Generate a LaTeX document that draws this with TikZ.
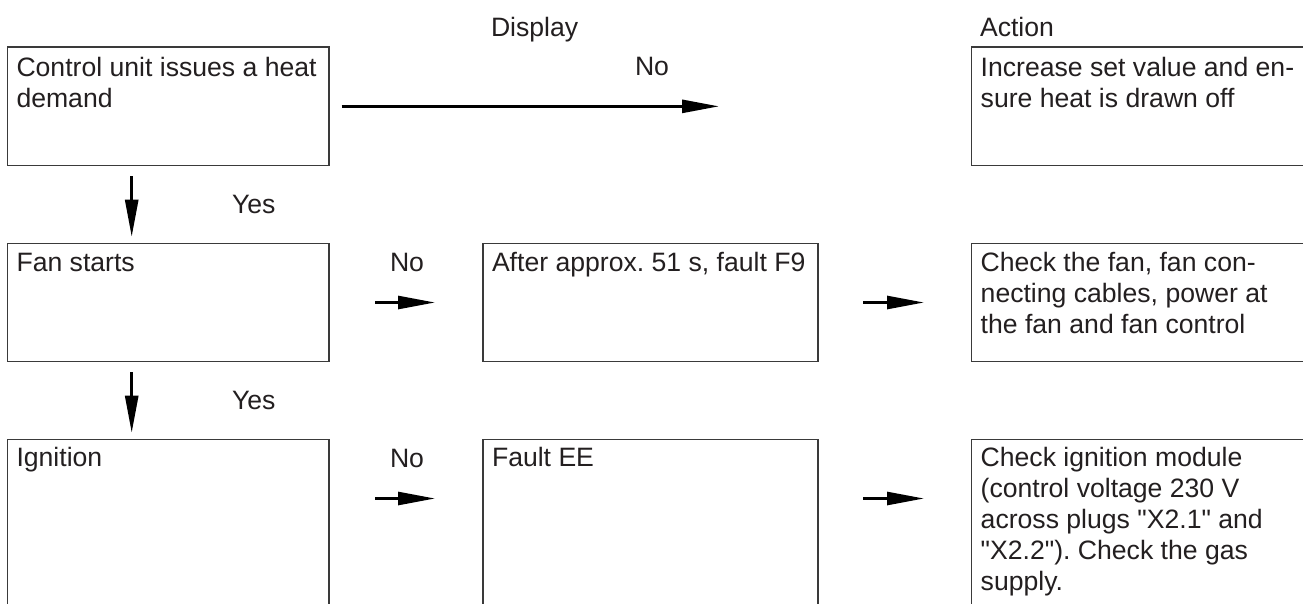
\documentclass[tikz,border=0pt]{standalone}
\usepackage{fontspec}
\newfontfamily\arialfont{Liberation Sans}
\usetikzlibrary{arrows.meta}
\definecolor{ink}{HTML}{231F20}
\definecolor{frame}{HTML}{3A3A3A}
\frenchspacing
\tikzset{
  box/.style={draw=frame, line width=1.3pt, inner sep=0pt, outer sep=0pt, anchor=north west},
  txt/.style={font={\arialfont\fontsize{26.6}{31}\selectfont\frenchspacing}, text=ink, inner sep=0pt, outer sep=0pt, align=left, anchor=base west},
  arr/.style={draw=black, line width=2.7pt, -{Triangle[length=37pt,width=13pt]}}
}
\begin{document}
\begin{tikzpicture}[x=1pt, y=-1pt]
\useasboundingbox (0,0) rectangle (1303,603);
\fill[white] (0,0) rectangle (1303,603);
\clip (0,0) rectangle (1303,603);
% headers
\node[txt] (hdisp) at (491,36) {Display};
\node[txt] (hact) at (980,36) {Action};
% row 1
\node[box, minimum width=321.5pt, minimum height=118.7pt] (b1) at (7.5,47) {};
\node[box, minimum width=400pt, minimum height=118.7pt] (r1) at (971.7,47) {};
% multi-line texts: base anchor sits on the last line, so shift by (lines-1)*31
\node[txt] (t1) at ([xshift=9pt,yshift=-60pt]b1.north west) {Control unit issues a heat\\demand};
\node[txt] (tr1) at ([xshift=9pt,yshift=-60pt]r1.north west) {Increase set value and en-\\sure heat is drawn off};
% row 2
\node[box, minimum width=321.5pt, minimum height=118.4pt] (b2) at (7.5,243.3) {};
\node[box, minimum width=335pt, minimum height=118.4pt] (m2) at (483,243.3) {};
\node[box, minimum width=400pt, minimum height=118.4pt] (r2) at (971.7,243.3) {};
\node[txt] (t2) at ([xshift=9pt,yshift=-28pt]b2.north west) {Fan starts};
\node[txt] (tm2) at ([xshift=9pt,yshift=-28pt]m2.north west) {After approx. 51 s, fault F9};
\node[txt] (tr2) at ([xshift=9pt,yshift=-90pt]r2.north west) {Check the fan, fan con-\\necting cables, power at\\the fan and fan control};
% row 3
\node[box, minimum width=321.5pt, minimum height=300pt] (b3) at (7.5,439.3) {};
\node[box, minimum width=335pt, minimum height=300pt] (m3) at (483,439.3) {};
\node[box, minimum width=400pt, minimum height=300pt] (r3) at (971.7,439.3) {};
\node[txt] (t3) at ([xshift=9pt,yshift=-27pt]b3.north west) {Ignition};
\node[txt] (tm3) at ([xshift=9pt,yshift=-27pt]m3.north west) {Fault EE};
\node[txt] (tr3) at ([xshift=9pt,yshift=-151pt]r3.north west) {Check ignition module\\(control voltage 230 V\\across plugs "X2.1" and\\"X2.2"). Check the gas\\supply.};
% labels
\node[txt] (no1) at (635,75) {No};
\node[txt] (yes1) at (232,213) {Yes};
\node[txt] (no2) at (390,271) {No};
\node[txt] (yes2) at (232,409) {Yes};
\node[txt] (no3) at (390,467) {No};
% arrows
\draw[arr, shorten <=12.7pt, shorten >=252.7pt] (b1.east) -- (r1.west);
\draw[arr, shorten <=46pt, shorten >=48pt] (b2.east) -- (m2.west);
\draw[arr, shorten <=45pt, shorten >=47.7pt] (m2.east) -- (r2.west);
\draw[arr, shorten <=46pt, shorten >=48pt] ([yshift=-59.2pt]b3.north east) -- ([yshift=-59.2pt]m3.north west);
\draw[arr, shorten <=45pt, shorten >=47.7pt] ([yshift=-59.2pt]m3.north east) -- ([yshift=-59.2pt]r3.north west);
\draw[arr, shorten <=10.3pt, shorten >=6.6pt] ([xshift=124.2pt]b1.south west) -- ([xshift=124.2pt]b2.north west);
\draw[arr, shorten <=10.3pt, shorten >=6.6pt] ([xshift=124.2pt]b2.south west) -- ([xshift=124.2pt]b3.north west);
\end{tikzpicture}
\end{document}
